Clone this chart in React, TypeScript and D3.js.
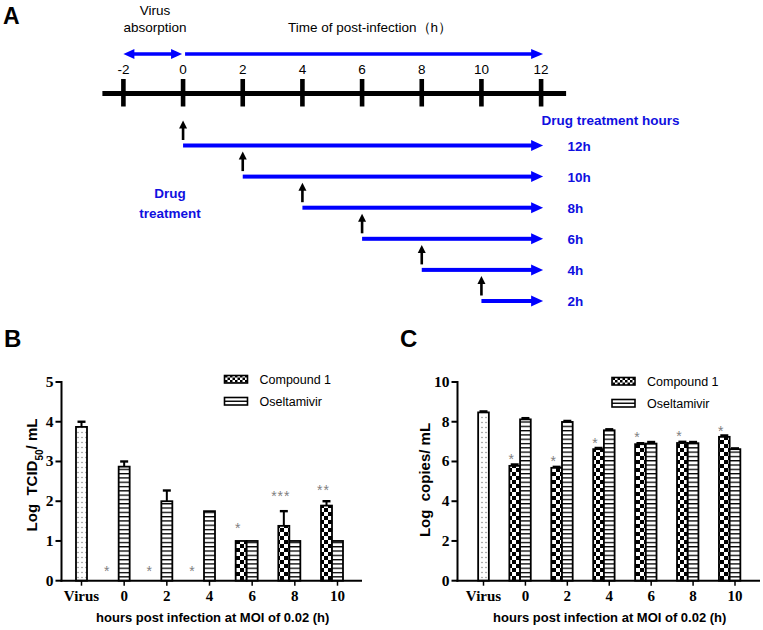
import React from "react";
import * as d3 from "d3";

// ---------- Panel A data ----------
const timelineTicks = [-2, 0, 2, 4, 6, 8, 10, 12];
const treatmentStarts = [0, 2, 4, 6, 8, 10];
const treatmentLabels = ["12h", "10h", "8h", "6h", "4h", "2h"];

// ---------- Panel B data (Log TCID50/mL) ----------
const categories = ["Virus", "0", "2", "4", "6", "8", "10"];
const virusTCID = [3.87, null, null, null, null, null, null];
const virusTCIDErr = [0.13, 0, 0, 0, 0, 0, 0];
const compoundTCID = [null, 0, 0, 0, 1.0, 1.38, 1.89];
const compoundTCIDErr = [0, 0, 0, 0, 0, 0.37, 0.11];
const oseltTCID = [null, 2.87, 2.0, 1.75, 1.0, 1.0, 1.0];
const oseltTCIDErr = [0, 0.13, 0.27, 0, 0, 0, 0];
const sigTCID = ["", "*", "*", "*", "*", "***", "**"];
const sigTCIDAt = [0, 0.33, 0.33, 0.33, 1.41, 2.22, 2.38];
const ticksTCID = [0, 1, 2, 3, 4, 5];

// ---------- Panel C data (Log copies/mL) ----------
const virusCopies = [8.47, null, null, null, null, null, null];
const virusCopiesErr = [0.05, 0, 0, 0, 0, 0, 0];
const compoundCopies = [null, 5.78, 5.68, 6.62, 6.87, 6.93, 7.24];
const compoundCopiesErr = [0, 0.07, 0.05, 0.06, 0.05, 0.06, 0.07];
const oseltCopies = [null, 8.12, 7.99, 7.57, 6.9, 6.92, 6.62];
const oseltCopiesErr = [0, 0.06, 0.05, 0.05, 0.08, 0.06, 0.04];
const sigCopies = ["", "*", "*", "*", "*", "*", "*"];
const sigCopiesAt = [0, 6.32, 6.2, 7.1, 7.4, 7.48, 7.7];
const ticksCopies = [0, 2, 4, 6, 8, 10];

const SANS = "Arial, 'Liberation Sans', Helvetica, sans-serif";
const SERIF = "'Times New Roman', 'Liberation Serif', serif";
const BLUE = "#0000ff";
const BLUE_TXT = "#1010e0";

function PanelA() {
  const x = d3.scaleLinear().domain([-2, 12]).range([123.4, 541.1]);
  const lineY = 93.5;
  const topArrowY = 54;
  const rowY = d3.scaleLinear().domain([0, 5]).range([145.5, 301]);
  const tipX = x(12) + 2;
  const blueArrow = (x1: number, y: number, key: string) => (
    <g key={key}>
      <rect x={x1} y={y - 2} width={tipX - 10 - x1} height={4} fill={BLUE} />
      <polygon points={`${tipX},${y} ${tipX - 12},${y - 5.5} ${tipX - 12},${y + 5.5}`} fill={BLUE} />
    </g>
  );
  return (
    <g>
      <text x={3} y={23.5} fontFamily={SANS} fontWeight="bold" fontSize={23}>A</text>
      <text x={155} y={15} textAnchor="middle" fontFamily={SANS} fontSize={13.5}>Virus</text>
      <text x={155} y={32} textAnchor="middle" fontFamily={SANS} fontSize={13.5}>absorption</text>
      <text x={288} y={31.5} fontFamily={SANS} fontSize={13.5}>Time of post-infection（h）</text>
      {/* double arrow */}
      <rect x={x(-2) + 8} y={topArrowY - 1.75} width={x(0) - x(-2) - 17} height={3.5} fill={BLUE} />
      <polygon points={`${x(-2)},${topArrowY} ${x(-2) + 11},${topArrowY - 5} ${x(-2) + 11},${topArrowY + 5}`} fill={BLUE} />
      <polygon points={`${x(0) - 1},${topArrowY} ${x(0) - 12},${topArrowY - 5} ${x(0) - 12},${topArrowY + 5}`} fill={BLUE} />
      <rect x={x(0) + 2} y={topArrowY - 1.75} width={tipX - 10 - x(0) - 2} height={3.5} fill={BLUE} />
      <polygon points={`${tipX},${topArrowY} ${tipX - 12},${topArrowY - 5} ${tipX - 12},${topArrowY + 5}`} fill={BLUE} />
      {/* timeline */}
      <rect x={x(-2) - 21} y={lineY - 2.5} width={x(12) - x(-2) + 46} height={5} fill="#000" />
      {timelineTicks.map((t) => (
        <g key={t}>
          <rect x={x(t) - 2.3} y={79} width={4.6} height={27.5} fill="#000" />
          <text x={x(t)} y={74} textAnchor="middle" fontFamily={SANS} fontSize={13.5}>{t}</text>
        </g>
      ))}
      <text x={541.5} y={124.5} fontFamily={SANS} fontWeight="bold" fontSize={13.5} fill={BLUE_TXT}>Drug treatment hours</text>
      <text x={170} y={197.5} textAnchor="middle" fontFamily={SANS} fontWeight="bold" fontSize={13.5} fill={BLUE_TXT}>Drug</text>
      <text x={170} y={218} textAnchor="middle" fontFamily={SANS} fontWeight="bold" fontSize={13.5} fill={BLUE_TXT}>treatment</text>
      {treatmentStarts.map((s, i) => {
        const y = rowY(i);
        const ax = x(s);
        return (
          <g key={s}>
            {blueArrow(ax, y, "b" + s)}
            <rect x={ax - 1.3} y={y - 19} width={2.6} height={13.5} fill="#000" />
            <polygon points={`${ax},${y - 25} ${ax - 4},${y - 17} ${ax + 4},${y - 17}`} fill="#000" />
            <text x={567.5} y={y + 5} fontFamily={SANS} fontWeight="bold" fontSize={13.5} fill={BLUE_TXT}>{treatmentLabels[i]}</text>
          </g>
        );
      })}
    </g>
  );
}

type PanelProps = {
  id: string;
  letter: string;
  letterX: number;
  virus: (number | null)[];
  virusErr: number[];
  comp: (number | null)[];
  compErr: number[];
  osel: (number | null)[];
  oselErr: number[];
  sig: string[];
  sigAt: number[];
  ticks: number[];
  yMax: number;
  axisX0: number;
  axisX1: number;
  xRange: [number, number];
  barW: number;
  yLabel: React.ReactNode;
  yLabelX: number;
  yLabelY: number;
  legendX: number;
  legendY: number;
};

function BarPanel(p: PanelProps) {
  const y = d3.scaleLinear().domain([0, p.yMax]).range([580.7, 382]);
  const x = d3.scalePoint<string>().domain(categories).range(p.xRange);
  const w = p.barW;
  const bars: React.ReactNode[] = [];
  const errs: React.ReactNode[] = [];
  const addBar = (key: string, cx: number, v: number | null, e: number, fill: string) => {
    if (v == null || v <= 0) return;
    bars.push(
      <rect key={key} x={cx - w / 2} y={y(v)} width={w} height={y(0) - y(v)} fill={fill} stroke="#000" strokeWidth={1.8} />
    );
    if (e > 0) {
      errs.push(
        <g key={key + "e"} stroke="#000" strokeWidth={2}>
          <line x1={cx} x2={cx} y1={y(v)} y2={y(v + e)} />
          <line x1={cx - 4} x2={cx + 4} y1={y(v + e)} y2={y(v + e)} strokeWidth={2.4} />
        </g>
      );
    }
  };
  categories.forEach((c, i) => {
    const cx = x(c)!;
    addBar("v" + i, cx, p.virus[i], p.virusErr[i], `url(#${p.id}dots)`);
    addBar("c" + i, cx - w, p.comp[i], p.compErr[i], `url(#${p.id}check)`);
    addBar("o" + i, cx, p.osel[i], p.oselErr[i], `url(#${p.id}stripe)`);
  });
  const cx0 = p.axisX0;
  return (
    <g>
      <defs>
        <pattern id={p.id + "check"} width={8} height={8} patternUnits="userSpaceOnUse">
          <rect width={8} height={8} fill="#fff" />
          <rect width={4} height={4} fill="#000" />
          <rect x={4} y={4} width={4} height={4} fill="#000" />
        </pattern>
        <pattern id={p.id + "stripe"} width={4} height={4.3} patternUnits="userSpaceOnUse">
          <rect width={4} height={4.3} fill="#fff" />
          <rect width={4} height={1.3} fill="#000" />
        </pattern>
        <pattern id={p.id + "dots"} width={4} height={5} patternUnits="userSpaceOnUse">
          <rect width={4} height={5} fill="#fff" />
          <circle cx={2} cy={2.5} r={0.7} fill="#777" />
        </pattern>
        <pattern id={p.id + "checkL"} width={5} height={5} patternUnits="userSpaceOnUse">
          <rect width={5} height={5} fill="#fff" />
          <rect width={2.5} height={2.5} fill="#000" />
          <rect x={2.5} y={2.5} width={2.5} height={2.5} fill="#000" />
        </pattern>
      </defs>
      <text x={p.letterX} y={346.5} fontFamily={SANS} fontWeight="bold" fontSize={24}>{p.letter}</text>
      {bars}
      {errs}
      {/* axes */}
      <line x1={cx0} x2={cx0} y1={y(p.yMax) - 1} y2={y(0) + 1} stroke="#000" strokeWidth={2} />
      <line x1={cx0 - 1} x2={p.axisX1} y1={y(0)} y2={y(0)} stroke="#000" strokeWidth={2} />
      {p.ticks.map((t) => (
        <g key={t}>
          <line x1={cx0 - 6} x2={cx0} y1={y(t)} y2={y(t)} stroke="#000" strokeWidth={2} />
          <text x={cx0 - 8} y={y(t) + 5} textAnchor="end" fontFamily={SERIF} fontWeight="bold" fontSize={15.5}>{t}</text>
        </g>
      ))}
      {categories.map((c) => (
        <g key={c}>
          <line x1={x(c)!} x2={x(c)!} y1={y(0)} y2={y(0) + 5} stroke="#000" strokeWidth={1.5} />
          <text x={x(c)!} y={601} textAnchor="middle" fontFamily={SERIF} fontWeight="bold" fontSize={15}>{c}</text>
        </g>
      ))}
      {categories.map((c, i) =>
        p.sig[i] ? (
          <text key={"s" + i} x={x(c)! - w - (p.sigAt[i] < 0.5 ? 6 : 3)} y={y(p.sigAt[i]) + 8.5} textAnchor="middle" fontFamily={SANS} fontSize={14} fill="#808080" style={{ letterSpacing: "1px" }}>
            {p.sig[i]}
          </text>
        ) : null
      )}
      <text transform={`translate(${p.yLabelX},${p.yLabelY}) rotate(-90)`} textAnchor="middle" fontFamily={SANS} fontWeight="bold" fontSize={15} style={{ whiteSpace: "pre" }}>
        {p.yLabel}
      </text>
      <text x={(cx0 + p.axisX1) / 2 + 1} y={622} textAnchor="middle" fontFamily={SANS} fontWeight="bold" fontSize={13}>
        hours post infection at MOI of 0.02 (h)
      </text>
      {/* legend */}
      <rect x={p.legendX} y={p.legendY} width={23} height={7.5} fill={`url(#${p.id}checkL)`} stroke="#000" strokeWidth={1.6} />
      <text x={p.legendX + 35} y={p.legendY + 8} fontFamily={SANS} fontSize={12.5}>Compound 1</text>
      <rect x={p.legendX} y={p.legendY + 22} width={23} height={7.5} fill="#fff" stroke="#000" strokeWidth={1.6} />
      <line x1={p.legendX} x2={p.legendX + 23} y1={p.legendY + 25.75} y2={p.legendY + 25.75} stroke="#000" strokeWidth={1.4} />
      <text x={p.legendX + 35} y={p.legendY + 30.5} fontFamily={SANS} fontSize={12.5}>Oseltamivir</text>
    </g>
  );
}

export default function App() {
  return (
    <svg width={763} height={630} style={{ position: "absolute", left: 0, top: 0, background: "#fff" }}>
      <rect width={763} height={630} fill="#fff" />
      <PanelA />
      <BarPanel
        id="B"
        letter="B"
        letterX={4}
        virus={virusTCID}
        virusErr={virusTCIDErr}
        comp={compoundTCID}
        compErr={compoundTCIDErr}
        osel={oseltTCID}
        oselErr={oseltTCIDErr}
        sig={sigTCID}
        sigAt={sigTCIDAt}
        ticks={ticksTCID}
        yMax={5}
        axisX0={61.5}
        axisX1={362}
        xRange={[81.5, 337.5]}
        barW={11}
        yLabel={
          <>
            <tspan>Log  TCID</tspan>
            <tspan baselineShift="sub" fontSize={10}>50</tspan>
            <tspan>/ mL</tspan>
          </>
        }
        yLabelX={37}
        yLabelY={475}
        legendX={224.5}
        legendY={375.5}
      />
      <BarPanel
        id="C"
        letter="C"
        letterX={400}
        virus={virusCopies}
        virusErr={virusCopiesErr}
        comp={compoundCopies}
        compErr={compoundCopiesErr}
        osel={oseltCopies}
        oselErr={oseltCopiesErr}
        sig={sigCopies}
        sigAt={sigCopiesAt}
        ticks={ticksCopies}
        yMax={10}
        axisX0={457.5}
        axisX1={760}
        xRange={[483.5, 735]}
        barW={10.7}
        yLabel={<tspan>Log  copies/ mL</tspan>}
        yLabelX={430}
        yLabelY={480}
        legendX={612}
        legendY={377.5}
      />
    </svg>
  );
}
